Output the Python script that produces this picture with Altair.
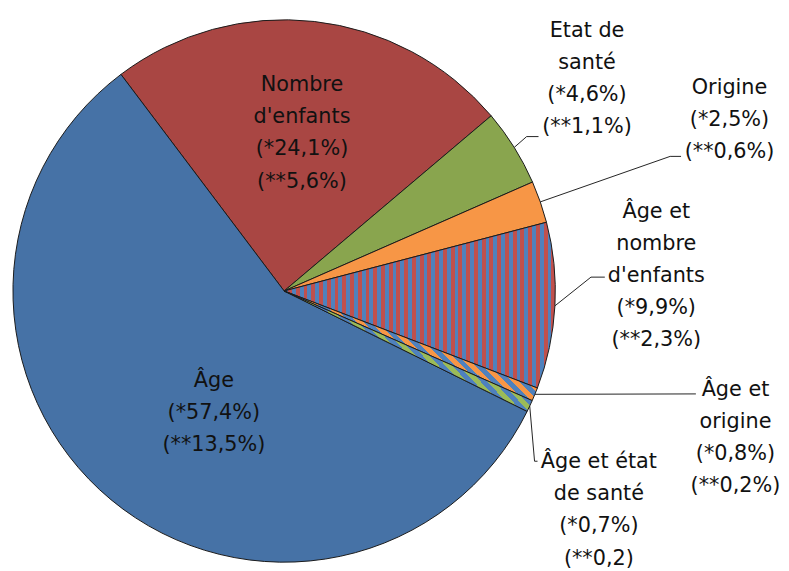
import math
import altair as alt
import pandas as pd

# ---------------- data ----------------
categories = ["Nombre d'enfants", "Etat de santé", "Origine",
              "Âge et nombre d'enfants", "Âge et origine",
              "Âge et état de santé", "Âge"]
share_star = [24.1, 4.6, 2.5, 9.9, 0.8, 0.7, 57.4]          # (*)
share_dstar = ["5,6%", "1,1%", "0,6%", "2,3%", "0,2%", "0,2", "13,5%"]  # (**)
name_lines = ["Nombre\nd'enfants", "Etat de\nsanté", "Origine",
              "Âge et\nnombre\nd'enfants", "Âge et\norigine",
              "Âge et état\nde santé", "Âge"]

# ---------------- style / layout ----------------
MARGIN = 8
W, H = 781, 563
CX, CY, R = 287 - MARGIN, 291 - MARGIN, 274
A0 = math.radians(-37.0)
FONT = "DejaVu Sans"

solid_colors = {"Nombre d'enfants": "#A94643", "Etat de santé": "#89A54E",
                "Origine": "#F79646", "Âge": "#4672A6"}


def stripes(c1, c2, n, x1, y1, x2, y2):
    stops = []
    for i in range(n):
        a = i / n
        b = (i + 0.5) / n
        c = (i + 1) / n
        stops += [{"offset": a, "color": c1}, {"offset": b, "color": c1},
                  {"offset": b, "color": c2}, {"offset": c, "color": c2}]
    return {"gradient": "linear", "x1": x1, "y1": y1, "x2": x2, "y2": y2,
            "stops": stops}


hatched_fills = {
    "Âge et nombre d'enfants": stripes("#4F81BD", "#C0504D", 35, 0, 0, 1, 0),
    "Âge et origine": stripes("#4F81BD", "#F79646", 22, 0, 0.434, 1, 0),
    "Âge et état de santé": stripes("#4F81BD", "#9BBB59", 22, 0, 0.45, 1, 0),
}

# centre of the first line of each label block (page pixels)
label_pos = {
    "Nombre d'enfants": (305, 83),
    "Etat de santé": (593, 28),
    "Origine": (737, 86),
    "Âge et nombre d'enfants": (663, 211),
    "Âge et origine": (743, 391),
    "Âge et état de santé": (605, 464),
    "Âge": (216, 382),
}
# leader line bends (page pixels); start point comes from slice mid-angle
leaders = {
    "Etat de santé": [(532, 135), (544, 135)],
    "Origine": [(677, 155), (688, 155)],
    "Âge et nombre d'enfants": [(597, 277), (611, 277)],
    "Âge et origine": [(703, 395)],
    "Âge et état de santé": [(540, 463), (543, 463)],
}

# ---------------- tables ----------------
df = pd.DataFrame({"category": categories, "value": share_star})
df["end"] = df["value"].cumsum()
df["start"] = df["end"] - df["value"]
df["mid"] = (df["start"] + df["end"]) / 2

lab = pd.DataFrame({
    "category": categories,
    "label": [f"{n}\n(*{str(v).replace('.', ',')}%)\n(**{d})"
              for n, v, d in zip(name_lines, share_star, share_dstar)],
})
lab["lx"] = [label_pos[c][0] - MARGIN for c in categories]
lab["ly"] = [label_pos[c][1] - MARGIN for c in categories]

rows = []
for c, pts in leaders.items():
    m = float(df.loc[df["category"] == c, "mid"].iloc[0])
    ang = A0 + m / 100 * 2 * math.pi
    rows.append({"category": c, "ord": 0,
                 "px": CX + R * math.sin(ang), "py": CY - R * math.cos(ang)})
    for k, (x, y) in enumerate(pts):
        rows.append({"category": c, "ord": k + 1,
                     "px": x - MARGIN, "py": y - MARGIN})
lead = pd.DataFrame(rows)

# ---------------- chart ----------------
theta_scale = alt.Scale(domain=[0, 100], range=[A0, A0 + 2 * math.pi])
arc_enc = dict(
    theta=alt.Theta("start:Q", scale=theta_scale, stack=None),
    theta2="end:Q",
    x=alt.value(CX),
    y=alt.value(CY),
)

solid = alt.Chart(df).transform_filter(
    alt.FieldOneOfPredicate(field="category", oneOf=list(solid_colors))
).mark_arc(outerRadius=R, stroke="#1a1a1a", strokeWidth=1).encode(
    color=alt.Color("category:N", legend=None,
                    scale=alt.Scale(domain=list(solid_colors),
                                    range=list(solid_colors.values()))),
    **arc_enc,
)

hatched_layers = []
for c, fill in hatched_fills.items():
    hatched_layers.append(
        alt.Chart(df).transform_filter(alt.datum.category == c)
        .mark_arc(outerRadius=R, stroke="#1a1a1a", strokeWidth=1, fill=fill)
        .encode(**arc_enc)
    )

lines = alt.Chart(lead).mark_line(color="#222222", strokeWidth=1).encode(
    x=alt.X("px:Q", scale=None),
    y=alt.Y("py:Q", scale=None),
    detail="category:N",
    order="ord:Q",
)

texts = alt.Chart(lab).mark_text(
    font=FONT, fontSize=21, lineBreak="\n", lineHeight=32.5,
    align="center", baseline="middle", color="#111111",
).encode(
    x=alt.X("lx:Q", scale=None),
    y=alt.Y("ly:Q", scale=None),
    text="label:N",
)

chart = alt.layer(solid, *hatched_layers, lines, texts).properties(
    width=W, height=H, padding=0,
    autosize=alt.AutoSizeParams(type="none"),
).configure_view(stroke=None)

chart.save("out.html", embed_options={"renderer": "svg", "actions": False})
